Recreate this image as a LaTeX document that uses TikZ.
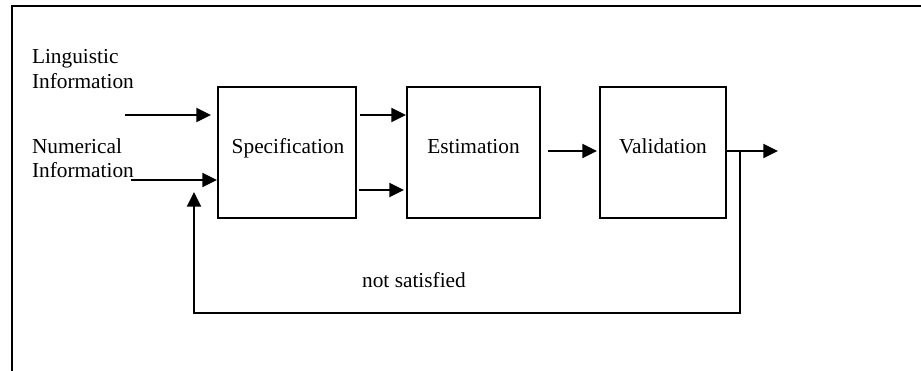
\documentclass[tikz,border=0pt]{standalone}
\usepackage{fontspec}
\setmainfont{Liberation Serif}
\usetikzlibrary{arrows.meta}
\begin{document}
\begin{tikzpicture}[x=0.75pt,y=-0.75pt,
  line width=1.5pt,
  txt/.style={inner sep=0pt,font=\fontsize{16}{19}\selectfont},
  blockbox/.style={draw,line width=1.5pt,inner sep=0pt,minimum width=#1*0.75pt,minimum height=98.25pt},
  arr/.style={-{Triangle[length=11pt,width=10.5pt]}}]
\useasboundingbox (0,0) rectangle (921,371);
% frame
\coordinate (fbl) at (12,372);
\coordinate (ftl) at (12,6);
\coordinate (ftr) at (922,6);
\draw (fbl) -- (ftl) -- (ftr);
% boxes
\node[blockbox=138] (spec) at (287,152.5) {};
\node[blockbox=133] (est) at (473.5,152.5) {};
\node[blockbox=126] (val) at (663,152.5) {};
\node[txt,anchor=base] (specl) at (288,153) {Specification};
\node[txt,anchor=base] (estl) at (473.5,153) {Estimation};
\node[txt,anchor=base] (vall) at (663,153) {Validation};
% input texts
\node[txt,anchor=base west] (ling1) at (31,63) {Linguistic};
\node[txt,anchor=base west] (ling2) at (31,88) {Information};
\node[txt,anchor=base west] (num1) at (31,153) {Numerical};
\node[txt,anchor=base west] (num2) at (31,177) {Information};
\node[txt,anchor=base] (ns) at (414,287) {not satisfied};
% inputs
\coordinate (in1) at (125,115);
\coordinate (in2) at (131,180);
\draw[arr,shorten >=4.5pt] (in1) -- (in1 -| spec.west);
\draw[arr] (in2) -- (in2 -| spec.west);
% spec -> est
\coordinate (s1) at (360,115);
\coordinate (s2) at (359,190);
\draw[arr] (s1) -- (s1 -| est.west);
\draw[arr,shorten >=1.5pt] (s2) -- (s2 -| est.west);
% est -> val
\coordinate (e1) at (548,151);
\draw[arr,shorten >=1.5pt] (e1) -- (e1 -| val.west);
% output
\coordinate (v1) at (726,151);
\coordinate (out) at (778,151);
\draw[arr] (v1) -- (out);
% feedback
\coordinate (fb1) at (740,151);
\coordinate (fb2) at (740,313);
\coordinate (fb3) at (194,313);
\coordinate (fb4) at (194,192);
\draw[arr] (fb1) -- (fb2) -- (fb3) -- (fb4);
\end{tikzpicture}
\end{document}
